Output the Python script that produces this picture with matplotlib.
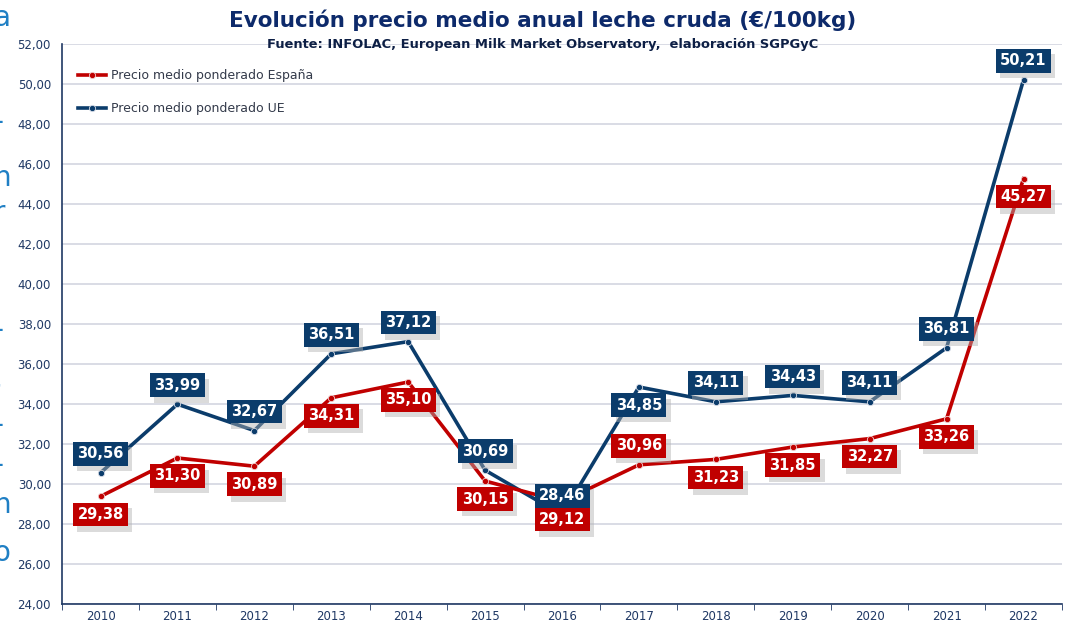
import matplotlib.pyplot as plt
import matplotlib.patheffects as pe

years = [2010, 2011, 2012, 2013, 2014, 2015, 2016, 2017, 2018, 2019, 2020, 2021, 2022]
espana = [29.38, 31.30, 30.89, 34.31, 35.10, 30.15, 29.12, 30.96, 31.23, 31.85, 32.27, 33.26, 45.27]
ue = [30.56, 33.99, 32.67, 36.51, 37.12, 30.69, 28.46, 34.85, 34.11, 34.43, 34.11, 36.81, 50.21]
# label above (+1) or below (-1) the point
esp_pos = [-1, -1, -1, -1, -1, -1, -1, 1, -1, -1, -1, -1, -1]
ue_pos = [1, 1, 1, 1, 1, 1, 1, -1, 1, 1, 1, 1, 1]

RED = '#c00000'
NAVY = '#0b3c6b'
AXC = '#1f3864'


def fmt(v):
    return f'{v:.2f}'.replace('.', ',')


fig = plt.figure(figsize=(10.7, 6.25), dpi=100)
ax = fig.add_axes([0.058, 0.0336, 0.9345, 0.896])

x = list(range(len(years)))
ax.plot(x, ue, color=NAVY, lw=2.6, marker='o', ms=4.5, mec='#d8dde8', mew=0.6,
        label='Precio medio ponderado UE', zorder=3)
ax.plot(x, espana, color=RED, lw=2.6, marker='o', ms=4.5, mec='#f0d0d0', mew=0.6,
        label='Precio medio ponderado España', zorder=3)


def add_labels(vals, pos, color):
    for i, v in enumerate(vals):
        off = 19 if pos[i] > 0 else -18
        t = ax.annotate(fmt(v), (i, v), xytext=(0, off), textcoords='offset pixels',
                        ha='center', va='center', color='white', fontsize=10.5, fontweight='bold',
                        bbox=dict(boxstyle='square,pad=0.3', fc=color, ec='none'), zorder=5)
        t.get_bbox_patch().set_path_effects([
            pe.SimplePatchShadow(offset=(3, -4), shadow_rgbFace='#b0b0b0', alpha=0.45),
            pe.Normal()])


add_labels(ue, ue_pos, NAVY)
add_labels(espana, esp_pos, RED)

ax.set_xlim(-0.5, len(years) - 0.5)
ax.set_ylim(24, 52)
ax.set_yticks(range(24, 53, 2))
ax.set_yticklabels([f'{v},00' for v in range(24, 53, 2)])
ax.set_xticks(x)
ax.set_xticklabels([str(y) for y in years])
ax.set_xticks([i - 0.5 for i in range(len(years) + 1)], minor=True)
ax.tick_params(axis='x', which='major', length=0, pad=4, labelsize=8.5, labelcolor=AXC)
ax.tick_params(axis='x', which='minor', length=4, color=AXC, direction='out')
ax.tick_params(axis='y', length=0, pad=8, labelsize=8.5, labelcolor=AXC)
ax.grid(axis='y', color='#d3d6e0', lw=1.2)
ax.set_axisbelow(True)
for s in ['top', 'right']:
    ax.spines[s].set_visible(False)
ax.spines['left'].set_color(AXC)
ax.spines['bottom'].set_color(AXC)
ax.spines['left'].set_linewidth(1.2)
ax.spines['bottom'].set_linewidth(1.2)

h, l = ax.get_legend_handles_labels()
leg = ax.legend(h[::-1], l[::-1], loc='upper left', bbox_to_anchor=(0.005, 0.975), frameon=False,
                fontsize=9, labelspacing=1.6, handlelength=2.2, handletextpad=0.4,
                labelcolor='#333a4a')

fig.text(0.507, 0.968, 'Evolución precio medio anual leche cruda (€/100kg)', ha='center', va='center',
         fontsize=15.5, fontweight='bold', color='#0d2a6b')
fig.text(0.507, 0.929, 'Fuente: INFOLAC, European Milk Market Observatory,  elaboración SGPGyC',
         ha='center', va='center', fontsize=9.4, fontweight='bold', color='#0d1f45')

# cut-off text fragments at the left edge of the slide
frag = [('a', 18), ('-', 122), ('n', 178), ('r', 213), ('-', 330), (',', 380),
        ('-', 425), ('-', 465), ('n', 505), ('o', 553)]
for ch, yy in frag:
    fig.text(-0.006, 1 - yy / 625, ch, ha='left', va='center', fontsize=20, color='#1f7fc4')

fig.savefig('out.png', dpi=100)
